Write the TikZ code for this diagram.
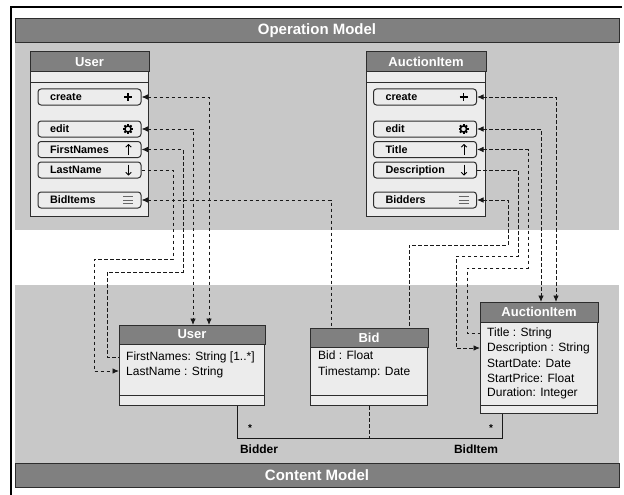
\documentclass[tikz,border=0pt]{standalone}
\usepackage{fontspec}
\setmainfont{Liberation Sans}
\usetikzlibrary{arrows.meta,calc}

\definecolor{barGray}{RGB}{128,128,128}
\definecolor{areaGray}{RGB}{200,200,200}
\definecolor{boxFill}{RGB}{236,236,236}
\definecolor{edgeCol}{RGB}{45,45,45}
\definecolor{lineCol}{RGB}{25,25,25}

% small icons drawn inside the operation buttons
\newcommand\iconPlus[1]{\draw[line width=1.8pt] ($(#1)+(-4,0)$) -- ++(8,0) ($(#1)+(0,-4)$) -- ++(0,8);}
\newcommand\iconGear[1]{%
  \draw[line width=1.5pt] (#1) circle (3.1pt);
  \foreach \a in {0,45,...,315} \draw[line width=2pt] ($(#1)+(\a:3pt)$) -- ($(#1)+(\a:5pt)$);}
\newcommand\iconUp[1]{\draw[line width=0.9pt,-{Straight Barb[length=2.5pt,width=5.5pt]}] ($(#1)+(0,5.5)$) -- ($(#1)+(0,-5.5)$);}
\newcommand\iconDown[1]{\draw[line width=0.9pt,-{Straight Barb[length=2.5pt,width=5.5pt]}] ($(#1)+(0,-5.5)$) -- ($(#1)+(0,5.5)$);}
\newcommand\iconList[1]{\foreach \d in {-3.5,0,3.5} \draw[black!60,line width=1pt] ($(#1)+(-5,\d)$) -- ++(10,0);}

\tikzset{
  bar/.style={draw=edgeCol, fill=barGray, line width=1pt, text=white,
    font=\bfseries\fontsize{15}{16}\selectfont, minimum width=604pt, minimum height=24pt, inner sep=0pt},
  classbox/.style={draw=edgeCol, fill=boxFill, line width=1pt, anchor=north west, inner sep=0pt},
  classhead/.style={fill=barGray, draw=edgeCol, line width=1pt},
  headtext/.style={text=white, font=\bfseries\fontsize{13}{15}\selectfont},
  btn/.style={draw=edgeCol, fill=boxFill, line width=1pt, rounded corners=3pt,
    minimum height=16pt, text width=79pt, inner xsep=12pt, inner ysep=0pt, align=left,
    text height=7.8pt, text depth=0pt,
    font=\bfseries\fontsize{10.8}{12}\selectfont},
  attr/.style={anchor=west, inner sep=2pt, font=\fontsize{12}{14}\selectfont},
  conn/.style={draw=lineCol, line width=0.9pt, dash pattern=on 3.5pt off 2.5pt},
  tipL/.tip={Latex[length=6.5pt,width=5.5pt]},
  assoc/.style={draw=lineCol, line width=1pt},
  role/.style={font=\bfseries\fontsize{12}{14}\selectfont},
  mult/.style={font=\bfseries\fontsize{10}{12}\selectfont}
}

\begin{document}
\begin{tikzpicture}[x=1pt,y=-1pt]
\useasboundingbox (0,0) rectangle (624,495);
\fill[white] (0,0) rectangle (624,495);

% outer frame
\draw[black,line width=2pt] (622,7) -- (11,7) -- (11,495);

% the two model layers
\fill[areaGray] (15,43) rectangle (619,230);
\fill[areaGray] (15,285) rectangle (619,463);
\node[bar] (opbar) at (317,31) {Operation Model};
\node[bar] (cbar) at (317,475) {Content Model};

% ---------- operation model: User ----------
\node[classbox, minimum width=118pt, minimum height=164pt] (uop) at (30,52) {};
\draw[classhead] (uop.north west) rectangle ($(uop.north east)+(0,20)$);
\node[headtext] at ($(uop.north)+(0,10)$) {User};
\draw[edgeCol,line width=1pt] ($(uop.north west)+(0,31)$) -- ($(uop.north east)+(0,31)$);
\node[btn] (ucreate) at (89.5,97)  {create};
\node[btn] (uedit)   at (89.5,129) {edit};
\node[btn] (ufirst)  at (89.5,149.5) {FirstNames};
\node[btn] (ulast)   at (89.5,170) {LastName};
\node[btn] (ubid)    at (89.5,200) {BidItems};
\iconPlus{$(ucreate.east)+(-13.5,0)$}
\iconGear{$(uedit.east)+(-13.5,0)$}
\iconUp{$(ufirst.east)+(-13,0)$}
\iconDown{$(ulast.east)+(-13,0)$}
\iconList{$(ubid.east)+(-13.5,0)$}

% ---------- operation model: AuctionItem ----------
\node[classbox, minimum width=119pt, minimum height=164pt] (aop) at (366,52) {};
\draw[classhead] (aop.north west) rectangle ($(aop.north east)+(0,20)$);
\node[headtext] at ($(aop.north)+(0,10)$) {AuctionItem};
\draw[edgeCol,line width=1pt] ($(aop.north west)+(0,31)$) -- ($(aop.north east)+(0,31)$);
\node[btn] (acreate)  at (425,97)  {create};
\node[btn] (aedit)    at (425,129) {edit};
\node[btn] (atitle)   at (425,149.5) {Title};
\node[btn] (adesc)    at (425,170) {Description};
\node[btn] (abidders) at (425,200) {Bidders};
\iconPlus{$(acreate.east)+(-13.5,0)$}
\iconGear{$(aedit.east)+(-13.5,0)$}
\iconUp{$(atitle.east)+(-13,0)$}
\iconDown{$(adesc.east)+(-13,0)$}
\iconList{$(abidders.east)+(-13.5,0)$}

% ---------- content model: User ----------
\node[classbox, minimum width=145pt, minimum height=80pt] (ucont) at (119,325) {};
\draw[classhead] (ucont.north west) rectangle ($(ucont.north east)+(0,19)$);
\node[headtext] at ($(ucont.north)+(0,9.5)$) {User};
\draw[edgeCol,line width=1pt] ($(ucont.south west)+(0,-11)$) -- ($(ucont.south east)+(0,-11)$);
\node[attr] (ufn) at (124,357) {FirstNames: String [1..*]};
\node[attr] (uln) at (124,372) {LastName : String};

% ---------- content model: Bid ----------
\node[classbox, minimum width=117pt, minimum height=77pt] (bid) at (310,328) {};
\draw[classhead] (bid.north west) rectangle ($(bid.north east)+(0,19)$);
\node[headtext] at ($(bid.north)+(0,9.5)$) {Bid};
\draw[edgeCol,line width=1pt] ($(bid.south west)+(0,-11)$) -- ($(bid.south east)+(0,-11)$);
\node[attr] (bbid) at (316,355) {Bid : Float};
\node[attr] (bts)  at (316,372) {Timestamp: Date};

% ---------- content model: AuctionItem ----------
\node[classbox, minimum width=117pt, minimum height=111pt] (acont) at (480,302) {};
\draw[classhead] (acont.north west) rectangle ($(acont.north east)+(0,20)$);
\node[headtext] at ($(acont.north)+(0,10)$) {AuctionItem};
\draw[edgeCol,line width=1pt] ($(acont.south west)+(0,-9)$) -- ($(acont.south east)+(0,-9)$);
\node[attr] (ati) at (485,333) {Title : String};
\node[attr] (ade) at (485,348) {Description : String};
\node[attr] (asd) at (485,363) {StartDate: Date};
\node[attr] (asp) at (485,378) {StartPrice: Float};
\node[attr] (adu) at (485,393) {Duration: Integer};

% ports on the content boxes
\coordinate (ufnPort) at ($(ucont.north west)+(0,32)$);
\coordinate (ulnPort) at ($(ucont.north west)+(0,46)$);
\coordinate (atiPort) at ($(acont.north west)+(0,31)$);
\coordinate (adePort) at ($(acont.north west)+(0,46)$);

% ---------- bindings between the two layers ----------
\draw[conn,tipL-tipL] (ucreate.east) -| ($(ucont.north west)+(90,0)$);
\draw[conn,tipL-tipL] (uedit.east) -| ($(ucont.north west)+(74,0)$);
\draw[conn,tipL-] (ufirst.east) -| (183,272) -| (107,357) -- (ufnPort);
\draw[conn,-tipL] (ulast.east) -| (173,259) -| (94,371) -- (ulnPort);
\draw[conn,tipL-] (ubid.east) -| ($(bid.north west)+(21,0)$);

\draw[conn,tipL-tipL] (acreate.east) -| ($(acont.north west)+(76,0)$);
\draw[conn,tipL-tipL] (aedit.east) -| ($(acont.north west)+(61,0)$);
\draw[conn,tipL-] (atitle.east) -| (528,268) -| (467,333) -- (atiPort);
\draw[conn,-tipL] (adesc.east) -| (518,256) -| (456,348) -- (adePort);
\draw[conn,tipL-] (abidders.east) -| (508,245) -| ($(bid.north west)+(99,0)$);

% ---------- association with its class ----------
\coordinate (assocL) at ($(ucont.south west)+(118,32)$);
\draw[assoc] ($(ucont.south west)+(118,0)$) -- (assocL) -| ($(acont.south west)+(22,0)$);
\draw[assoc,dash pattern=on 3.5pt off 2.5pt] ($(bid.south west)+(59,0)$) -- ($(bid.south west)+(59,32)$);
\node[mult] at (250,428) {*};
\node[mult] at (491,428) {*};
\node[role] at (259,449) {Bidder};
\node[role] at (476,449) {BidItem};
\end{tikzpicture}
\end{document}
